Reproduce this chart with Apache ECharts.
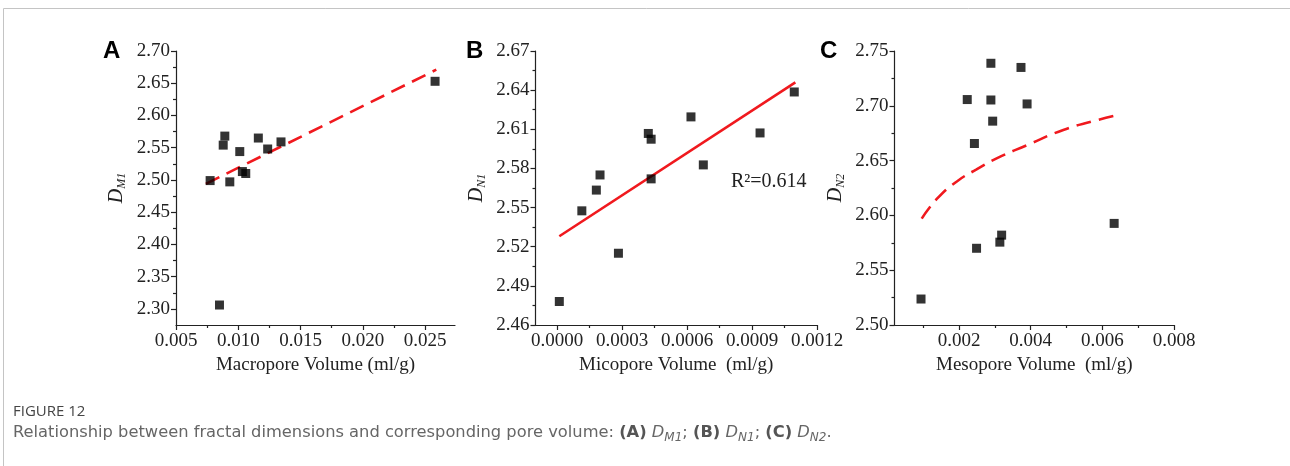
<!DOCTYPE html>
<html><head><meta charset="utf-8">
<script src="https://cdn.jsdelivr.net/npm/echarts@6/dist/echarts.min.js"></script>
<style>html,body{margin:0;padding:0;background:#fff;}#c{width:1290px;height:466px;}</style>
</head><body><div id="c"></div>
<script>
// ---- Panel A: macropore volume vs D_M1 ----
const macroVol = [0.00774,0.00849,0.00879,0.00892,0.00932,0.01012,0.01033,0.0106,0.01161,0.01236,0.01343,0.0258];
const dM1 = [2.499,2.306,2.554,2.568,2.497,2.544,2.513,2.510,2.565,2.548,2.559,2.653];
const fitAX = [0.0074, 0.0259];
const fitAY = [2.494, 2.671];
const ticksAX = [0.005,0.010,0.015,0.020,0.025];
const minorAX = [0.0075,0.0125,0.0175,0.0225];
const ticksAY = [2.30,2.35,2.40,2.45,2.50,2.55,2.60,2.65,2.70];
const minorAY = [2.325,2.375,2.425,2.475,2.525,2.575,2.625,2.675];

// ---- Panel B: micropore volume vs D_N1 ----
const microVol = [0.00001,0.000114,0.000181,0.000198,0.000283,0.000421,0.000434,0.000434,0.000618,0.000675,0.000937,0.001095];
const dN1 = [2.478,2.5475,2.5634,2.575,2.515,2.6068,2.6024,2.572,2.6195,2.5827,2.6072,2.6386];
const fitBX = [0.00001, 0.0011];
const fitBY = [2.528, 2.646];
const ticksBX = [0,0.0003,0.0006,0.0009,0.0012];
const minorBX = [0.00015,0.00045,0.00075,0.00105];
const ticksBY = [2.46,2.49,2.52,2.55,2.58,2.61,2.64,2.67];
const minorBY = [2.475,2.505,2.535,2.565,2.595,2.625,2.655];

// ---- Panel C: mesopore volume vs D_N2 ----
const mesoVol = [0.00094,0.00223,0.00243,0.00249,0.00289,0.00289,0.00294,0.00314,0.00319,0.00373,0.0039,0.00633];
const dN2 = [2.5237,2.7057,2.6656,2.570,2.7388,2.7053,2.686,2.5756,2.582,2.735,2.7017,2.5927];
const fitCX = [0.00096,0.00138,0.00194,0.00249,0.00305,0.00389,0.00491,0.00575,0.00636];
const fitCY = [2.597,2.615,2.631,2.642,2.652,2.664,2.678,2.686,2.691];
const ticksCX = [0.002,0.004,0.006,0.008];
const minorCX = [0.001,0.003,0.005,0.007];
const ticksCY = [2.50,2.55,2.60,2.65,2.70,2.75];
const minorCY = [2.525,2.575,2.625,2.675,2.725];

const SERIF = '"Liberation Serif","Times New Roman",serif';
const AX = '#222';
const RED = '#f0191e';

const panels = [
  {grid:{left:176,top:51,width:279,height:274}, xr:[0.005,0.0274], yr:[2.275,2.70],
   tx:ticksAX, mx:minorAX, ty:ticksAY, my:minorAY, xd:3, yd:2,
   xname:'Macropore Volume (ml/g)', ysub:'M1', xs:macroVol, ys:dM1, fx:fitAX, fy:fitAY, dash:[15,8], smooth:false, ygap:48},
  {grid:{left:535.5,top:51,width:281.5,height:274}, xr:[-0.0001,0.0012], yr:[2.46,2.67],
   tx:ticksBX, mx:minorBX, ty:ticksBY, my:minorBY, xd:4, yd:2,
   xname:'Micopore Volume  (ml/g)', ysub:'N1', xs:microVol, ys:dN1, fx:fitBX, fy:fitBY, dash:'solid', smooth:false, ygap:48},
  {grid:{left:894.5,top:51,width:279.5,height:274}, xr:[0.0002,0.008], yr:[2.50,2.75],
   tx:ticksCX, mx:minorCX, ty:ticksCY, my:minorCY, xd:3, yd:2,
   xname:'Mesopore Volume  (ml/g)', ysub:'N2', xs:mesoVol, ys:dN2, fx:fitCX, fy:fitCY, dash:[15,8], smooth:true, ygap:48}
];

const grids=[], xAxes=[], yAxes=[], series=[];
panels.forEach((p,i)=>{
  grids.push(p.grid);
  const lineStyle = {color:AX, width:1.2};
  xAxes.push({gridIndex:i, type:'value', position:'bottom', min:p.xr[0], max:p.xr[1],
    axisLine:{show:true,onZero:false,lineStyle},
    axisTick:{show:true,inside:false,length:5,lineStyle,customValues:p.tx},
    axisLabel:{customValues:p.tx, formatter:v=>v.toFixed(p.xd), fontFamily:SERIF, fontSize:19, color:AX, margin:7},
    splitLine:{show:false},
    name:p.xname, nameLocation:'middle', nameGap:29,
    nameTextStyle:{fontFamily:SERIF, fontSize:19, color:AX}});
  xAxes.push({gridIndex:i, type:'value', position:'bottom', min:p.xr[0], max:p.xr[1],
    axisLine:{show:false,onZero:false}, axisTick:{show:true,inside:false,length:3,lineStyle,customValues:p.mx},
    axisLabel:{show:false}, splitLine:{show:false}});
  yAxes.push({gridIndex:i, type:'value', position:'left', min:p.yr[0], max:p.yr[1],
    axisLine:{show:true,onZero:false,lineStyle},
    axisTick:{show:true,inside:false,length:5,lineStyle,customValues:p.ty},
    axisLabel:{customValues:p.ty, formatter:v=>v.toFixed(p.yd), fontFamily:SERIF, fontSize:19, color:AX, margin:6},
    splitLine:{show:false},
    name:'{d|D}{s|'+p.ysub+'}', nameLocation:'middle', nameGap:p.ygap,
    nameTextStyle:{color:AX, rich:{
      d:{fontFamily:SERIF, fontStyle:'italic', fontSize:20, color:AX, lineHeight:22},
      s:{fontFamily:SERIF, fontStyle:'italic', fontSize:12, color:AX, verticalAlign:'bottom', lineHeight:22, padding:[8,0,0,0]}
    }}});
  yAxes.push({gridIndex:i, type:'value', position:'left', min:p.yr[0], max:p.yr[1],
    axisLine:{show:false,onZero:false}, axisTick:{show:true,inside:false,length:3,lineStyle,customValues:p.my},
    axisLabel:{show:false}, splitLine:{show:false}});
  series.push({type:'line', xAxisIndex:2*i, yAxisIndex:2*i, data:p.fx.map((x,k)=>[x,p.fy[k]]),
    showSymbol:false, symbol:'none', smooth:p.smooth, z:2,
    lineStyle:{color:RED, width:2.6, type:p.dash}});
  series.push({type:'scatter', xAxisIndex:2*i, yAxisIndex:2*i, data:p.xs.map((x,k)=>[x,p.ys[k]]),
    symbol:'rect', symbolSize:9, z:3, itemStyle:{color:'#000'}});
});

const chart = echarts.init(document.getElementById('c'), null, {renderer:'canvas'});
chart.setOption({
  animation:false,
  backgroundColor:'#fff',
  grid:grids, xAxis:xAxes, yAxis:yAxes, series:series,
  graphic:[
    {type:'line', shape:{x1:3.5,y1:8.5,x2:1290,y2:8.5}, style:{stroke:'#c4c4c4',lineWidth:1}},
    {type:'line', shape:{x1:3.5,y1:8.5,x2:3.5,y2:466}, style:{stroke:'#c4c4c4',lineWidth:1}},
    {type:'text', left:103, top:39, style:{text:'A', font:'bold 24px "Liberation Sans",Arial,sans-serif', fill:'#000'}},
    {type:'text', left:466, top:39, style:{text:'B', font:'bold 24px "Liberation Sans",Arial,sans-serif', fill:'#000'}},
    {type:'text', left:820, top:39, style:{text:'C', font:'bold 24px "Liberation Sans",Arial,sans-serif', fill:'#000'}},
    {type:'text', left:731, top:172, style:{text:'R²=0.614', font:'20px "Liberation Serif",serif', fill:AX}},
    {type:'text', left:13, top:404, style:{text:'FIGURE 12', font:'15px "Open Sans",sans-serif', fill:'#444'}},
    {type:'text', left:13, top:425, style:{
      text:'{t|Relationship between fractal dimensions and corresponding pore volume: }{b|(A)}{t| }{i|D}{si|M1}{t|; }{b|(B)}{t| }{i|D}{si|N1}{t|; }{b|(C)}{t| }{i|D}{si|N2}{t|.}',
      rich:{
        t:{font:'16.3px "DejaVu Sans",sans-serif', fill:'#666', lineHeight:22},
        b:{font:'bold 16.3px "DejaVu Sans",sans-serif', fill:'#555', lineHeight:22},
        i:{font:'italic 16.3px "DejaVu Sans",sans-serif', fill:'#666', lineHeight:22},
        si:{font:'italic 12px "DejaVu Sans",sans-serif', fill:'#666', verticalAlign:'bottom', lineHeight:22, padding:[6,0,0,0]}
      }}}
  ]
});
</script></body></html>
